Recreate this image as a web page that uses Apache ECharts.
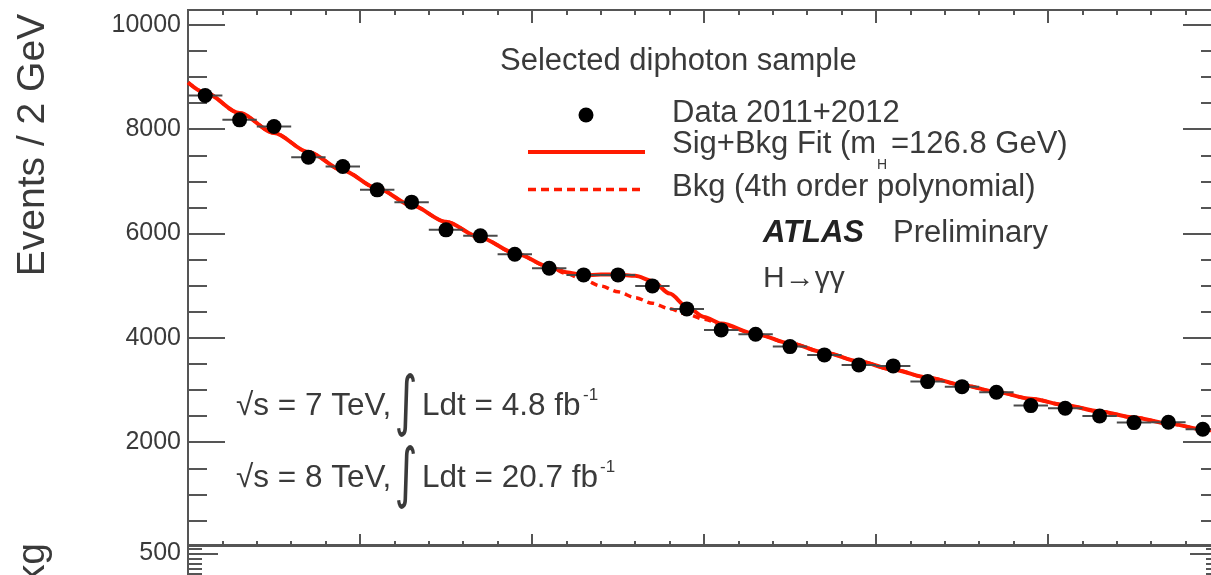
<!DOCTYPE html>
<html>
<head>
<meta charset="utf-8">
<script src="https://cdn.jsdelivr.net/npm/echarts@6/dist/echarts.min.js"></script>
<style>
html,body{margin:0;padding:0;background:#fff;}
#chart{width:1211px;height:575px;}
</style>
</head>
<body>
<div id="chart"></div>
<script>
// ---- data ----
const massCenters = [101,103,105,107,109,111,113,115,117,119,121,123,125,127,129,131,133,135,137,139,141,143,145,147,149,151,153,155,157,159];
const dataEvents  = [8646,8180,8052,7465,7285,6838,6602,6071,5956,5605,5336,5208,5208,4997,4556,4153,4071,3833,3674,3482,3463,3162,3066,2959,2702,2652,2504,2376,2383,2249];
const fitMass     = [100,101,103,105,107,109,111,113,115,117,119,121,122,123,124,125,126,127,128,129,130,131,133,135,137,139,141,143,145,147,149,151,153,155,157,159,160];
const bkgFit      = [8897,8700,8310,7930,7564,7211,6870,6542,6226,5922,5630,5362,5235,5114,4995,4883,4771,4665,4558,4458,4358,4263,4076,3896,3721,3551,3391,3241,3099,2964,2835,2711,2591,2474,2360,2248,2192];
const sigBkgFit   = [8897,8700,8310,7930,7564,7211,6870,6542,6226,5922,5630,5365,5260,5200,5215,5212,5190,5092,4850,4600,4403,4275,4076,3896,3721,3551,3391,3241,3099,2964,2835,2711,2591,2474,2360,2248,2192];
const yMajorTicks = [2000,4000,6000,8000,10000];
const yMinorTicks = [500,1000,1500,2500,3000,3500,4500,5000,5500,6500,7000,7500,8500,9000,9500];
const lowMajorTicks = [500];
const lowMinorTicks = [600,400,300,200,100,0,-100,-200,-300,-400,-600,-700,-800,-900,-1000];

const RED = '#ff1a00';
const TXT = '#3a3a3a';
const AX = '#555';
const FONT = '"Liberation Sans", Arial, sans-serif';

const chart = echarts.init(document.getElementById('chart'), null, {renderer:'canvas'});

function xAx(grid, pos, major, minor){
  return {type:'value', gridIndex:grid, position:pos, min:100, max:160, interval:10,
    axisLine:{show:false}, splitLine:{show:false}, axisLabel:{show:false},
    axisTick:{show:true, inside:true, length:major, lineStyle:{color:AX, width:2}},
    minorTick:{show:true, splitNumber:5, length:minor, lineStyle:{color:AX, width:2}}};
}
function yAx(grid, pos, min, max, ticks, len, labels){
  return {type:'value', gridIndex:grid, position:pos, min:min, max:max, offset:0,
    axisLine:{show:false}, splitLine:{show:false},
    axisTick:{show:true, inside:true, length:len, customValues:ticks, lineStyle:{color:AX, width:2}},
    axisLabel: labels ? {show:true, customValues:labels, formatter:function(v){return String(v);}, fontSize:25, fontFamily:FONT, color:TXT, margin:7} : {show:false}};
}

const option = {
  animation:false,
  backgroundColor:'#fff',
  grid:[
    {left:188, top:10, right:-9, height:535, containLabel:false, outerBoundsMode:'none', show:true, borderColor:AX, borderWidth:2, backgroundColor:'transparent'},
    {left:188, top:546, right:-9, height:100, containLabel:false, outerBoundsMode:'none', show:true, borderColor:AX, borderWidth:2, backgroundColor:'transparent'}
  ],
  xAxis:[
    xAx(0,'bottom',11,4),
    xAx(0,'top',13,5),
    xAx(1,'top',11,4)
  ],
  yAxis:[
    yAx(0,'left',30,10286,yMajorTicks,37,yMajorTicks),
    yAx(0,'left',30,10286,yMinorTicks,19,null),
    yAx(0,'right',30,10286,yMajorTicks,37,null),
    yAx(0,'right',30,10286,yMinorTicks,19,null),
    yAx(1,'left',-1350,650,lowMajorTicks,30,lowMajorTicks),
    yAx(1,'left',-1350,650,lowMinorTicks,14,null),
    yAx(1,'right',-1350,650,lowMajorTicks,30,null),
    yAx(1,'right',-1350,650,lowMinorTicks,14,null)
  ],
  series:[
    {type:'line', name:'Bkg', xAxisIndex:0, yAxisIndex:0, data:fitMass.map((m,i)=>[m,bkgFit[i]]),
      showSymbol:false, smooth:0.3, smoothMonotone:'x', lineStyle:{color:RED, width:3.5, type:[7,5]}, z:2},
    {type:'line', name:'Sig+Bkg', xAxisIndex:0, yAxisIndex:0, data:fitMass.map((m,i)=>[m,sigBkgFit[i]]),
      showSymbol:false, smooth:0.3, smoothMonotone:'x', lineStyle:{color:RED, width:4}, z:3},
    {type:'custom', name:'xerr', xAxisIndex:0, yAxisIndex:0, data:massCenters.map((m,i)=>[m,dataEvents[i]]),
      renderItem:function(params, api){
        const a = api.coord([api.value(0)-1, api.value(1)]);
        const b = api.coord([api.value(0)+1, api.value(1)]);
        return {type:'line', shape:{x1:a[0],y1:a[1],x2:b[0],y2:b[1]}, style:{stroke:'#4a4a4a', lineWidth:2}};
      }, z:4},
    {type:'scatter', name:'Data', xAxisIndex:0, yAxisIndex:0, data:massCenters.map((m,i)=>[m,dataEvents[i]]),
      symbol:'circle', symbolSize:15, itemStyle:{color:'#000', opacity:1}, z:5}
  ],
  graphic:[
    {type:'text', x:33, y:145, rotation:Math.PI/2, style:{text:'Events / 2 GeV', font:'39px '+FONT, fill:TXT, align:'center', verticalAlign:'middle'}},
    {type:'text', x:33, y:543, rotation:Math.PI/2, style:{text:'Events - Bkg', font:'39px '+FONT, fill:TXT, align:'right', verticalAlign:'middle'}},
    {type:'text', x:500, y:61, style:{text:'Selected diphoton sample', font:'31px '+FONT, fill:TXT, align:'left', verticalAlign:'middle'}},
    {type:'circle', shape:{cx:586, cy:115, r:7.5}, style:{fill:'#000'}},
    {type:'text', x:672, y:113.5, style:{text:'Data 2011+2012', font:'31px '+FONT, fill:TXT, align:'left', verticalAlign:'middle'}},
    {type:'line', shape:{x1:528, y1:152, x2:645, y2:152}, style:{stroke:RED, lineWidth:4}},
    {type:'text', x:672, y:144.2, style:{text:'Sig+Bkg Fit (m', font:'31px '+FONT, fill:TXT, align:'left', verticalAlign:'middle'}},
    {type:'text', x:877, y:165, style:{text:'H', font:'14px '+FONT, fill:TXT, align:'left', verticalAlign:'middle'}},
    {type:'text', x:891, y:144.2, style:{text:'=126.8 GeV)', font:'31px '+FONT, fill:TXT, align:'left', verticalAlign:'middle'}},
    {type:'line', shape:{x1:528, y1:189.5, x2:645, y2:189.5}, style:{stroke:RED, lineWidth:3.5, lineDash:[8,5]}},
    {type:'text', x:672, y:187.2, style:{text:'Bkg (4th order polynomial)', font:'31px '+FONT, fill:TXT, align:'left', verticalAlign:'middle'}},
    {type:'text', x:763, y:233, style:{text:'ATLAS', font:'italic bold 31px '+FONT, fill:'#222', align:'left', verticalAlign:'middle'}},
    {type:'text', x:893, y:233, style:{text:'Preliminary', font:'31px '+FONT, fill:TXT, align:'left', verticalAlign:'middle'}},
    {type:'text', x:763, y:279, style:{text:'H\u2192\u03b3\u03b3', font:'30px '+FONT, fill:TXT, align:'left', verticalAlign:'middle'}},
    {type:'text', x:236, y:406, style:{text:'\u221as = 7 TeV,', font:'31.5px '+FONT, fill:TXT, align:'left', verticalAlign:'middle'}},
    {type:'text', x:406, y:406, scaleY:1.5, style:{text:'\u222b', font:'44px "DejaVu Sans"', fill:TXT, align:'center', verticalAlign:'middle'}},
    {type:'text', x:422, y:406, style:{text:'Ldt = 4.8 fb', font:'31.5px '+FONT, fill:TXT, align:'left', verticalAlign:'middle'}},
    {type:'text', x:583, y:395, style:{text:'-1', font:'17px '+FONT, fill:TXT, align:'left', verticalAlign:'middle'}},
    {type:'text', x:236, y:478, style:{text:'\u221as = 8 TeV,', font:'31.5px '+FONT, fill:TXT, align:'left', verticalAlign:'middle'}},
    {type:'text', x:406, y:478, scaleY:1.5, style:{text:'\u222b', font:'44px "DejaVu Sans"', fill:TXT, align:'center', verticalAlign:'middle'}},
    {type:'text', x:422, y:478, style:{text:'Ldt = 20.7 fb', font:'31.5px '+FONT, fill:TXT, align:'left', verticalAlign:'middle'}},
    {type:'text', x:600, y:467, style:{text:'-1', font:'17px '+FONT, fill:TXT, align:'left', verticalAlign:'middle'}}
  ]
};
chart.setOption(option);
</script>
</body>
</html>
